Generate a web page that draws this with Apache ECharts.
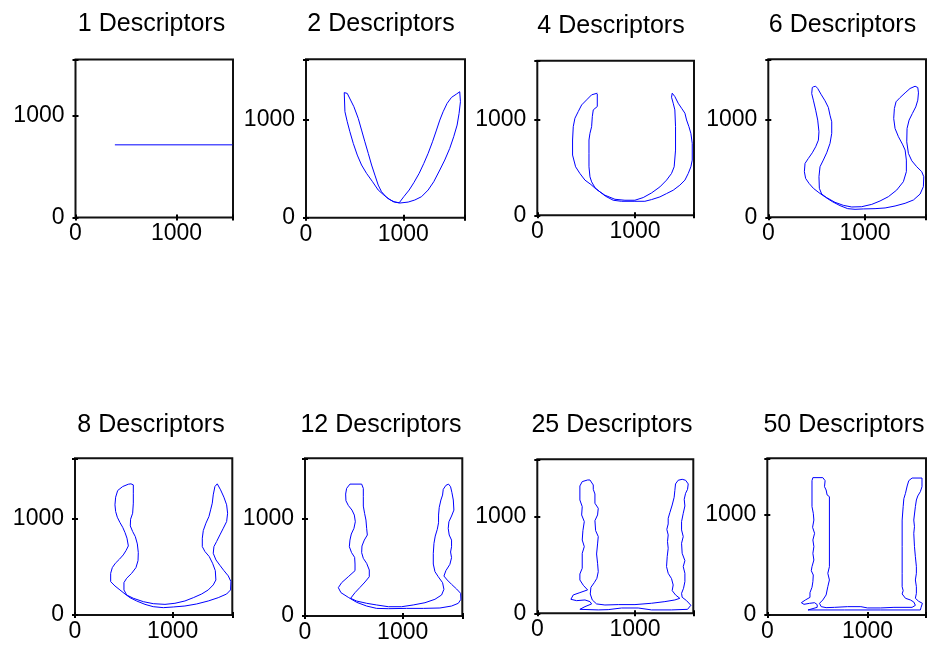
<!DOCTYPE html>
<html>
<head>
<meta charset="utf-8">
<script src="https://cdn.jsdelivr.net/npm/echarts@6/dist/echarts.min.js"></script>
<style>
  html, body { margin: 0; padding: 0; background: #ffffff; }
  #chart { width: 929px; height: 646px; }
</style>
</head>
<body>
<div id="chart"></div>
<script>
// Number of Fourier descriptors kept for each reconstruction
const descriptorCounts = [1, 2, 4, 6, 8, 12, 25, 50];
const tickValues = [0, 1000];

// Reconstructed boundary contours, [x, y] pairs in image units
const contour1 = [[390, 716], [1555, 716]];

const contour2 = [
  [393, 1280], [400, 1085], [424, 982], [451, 880], [486, 760], [527, 641], [571, 539], [622, 454],
  [684, 368], [742, 283], [800, 232], [855, 188], [913, 160], [964, 150],
  [1050, 160], [1118, 181], [1187, 215], [1255, 283], [1313, 368], [1375, 488], [1426, 590], [1477, 709],
  [1518, 829], [1553, 948], [1573, 1067], [1587, 1187], [1580, 1289],
  [1546, 1265], [1495, 1231], [1450, 1170], [1409, 1084], [1375, 999], [1341, 897], [1300, 777], [1255, 658],
  [1211, 556], [1163, 454], [1108, 358], [1060, 283], [1005, 215], [958, 153],
  [896, 164], [828, 208], [776, 266], [742, 334], [708, 436], [674, 539], [640, 658], [605, 777],
  [571, 897], [537, 1016], [492, 1136], [458, 1204], [424, 1272]
];

const contour3 = [
  [614, 1274], [614, 1141], [573, 1106], [563, 1035], [556, 930], [539, 860], [529, 790], [529, 650],
  [529, 509], [539, 404], [556, 351], [590, 291], [641, 246], [699, 200], [777, 158], [863, 147],
  [999, 147], [1101, 147], [1170, 165], [1255, 193], [1323, 228], [1391, 263], [1459, 316], [1511, 369],
  [1545, 439], [1572, 509], [1586, 579], [1586, 755], [1572, 860], [1552, 930], [1528, 1000], [1511, 1071],
  [1477, 1123], [1442, 1176], [1408, 1246], [1381, 1281],
  [1374, 1239], [1391, 1176], [1408, 1106], [1415, 930], [1415, 684], [1401, 509], [1374, 439], [1323, 369],
  [1255, 298], [1170, 235], [1084, 186], [999, 158], [897, 158], [795, 168], [692, 211], [607, 270],
  [549, 323], [488, 369], [436, 439], [392, 509], [361, 632], [361, 790], [368, 930], [385, 1018],
  [419, 1088], [454, 1158], [505, 1211], [556, 1264], [614, 1281]
];

const contour6 = [
  [455, 1334], [449, 1272], [466, 1204], [490, 1101], [511, 999], [524, 879], [518, 793], [490, 725],
  [455, 663], [414, 605], [380, 554], [373, 469], [386, 400], [421, 349], [466, 298], [524, 253],
  [593, 205], [662, 161], [742, 120], [821, 89], [897, 82], [983, 86],
  [1104, 89], [1208, 96], [1311, 116], [1415, 144], [1501, 178], [1570, 239], [1604, 315], [1608, 417],
  [1587, 469], [1535, 520], [1484, 581], [1449, 657], [1432, 776], [1435, 913], [1456, 999], [1490, 1067],
  [1525, 1135], [1546, 1204], [1553, 1279], [1546, 1334], [1518, 1347],
  [1466, 1324], [1415, 1279], [1363, 1231], [1321, 1187], [1304, 1118], [1297, 1016], [1311, 913],
  [1346, 828], [1387, 752], [1415, 691], [1428, 588], [1428, 469], [1397, 366], [1328, 280], [1242, 212],
  [1156, 168], [1070, 133], [966, 109], [863, 106], [776, 123], [690, 154], [604, 202], [552, 239],
  [528, 298], [524, 417], [535, 520], [569, 588], [604, 663], [638, 759], [656, 862], [656, 982],
  [638, 1050], [621, 1129], [587, 1197], [545, 1265], [511, 1324], [490, 1347], [466, 1341]
];

const contour8 = [
  [546, 1352], [488, 1328], [437, 1287], [416, 1218], [409, 1139], [416, 1070], [433, 1011], [460, 956],
  [488, 907], [512, 852], [532, 794], [546, 714], [522, 666], [494, 621], [454, 576], [413, 535],
  [382, 490], [365, 431], [365, 345], [409, 300], [460, 259], [512, 217], [563, 179], [631, 145],
  [716, 110], [801, 86], [904, 76],
  [1006, 83], [1125, 93], [1245, 114], [1364, 145], [1466, 179], [1552, 217], [1592, 259], [1596, 345],
  [1569, 404], [1524, 459], [1483, 514], [1443, 569], [1415, 638], [1422, 707], [1449, 759], [1483, 828],
  [1518, 897], [1552, 966], [1562, 1052], [1552, 1139], [1524, 1218], [1490, 1294], [1456, 1356],
  [1432, 1328], [1415, 1242], [1405, 1156], [1388, 1087], [1371, 1018], [1340, 949], [1313, 873],
  [1303, 794], [1303, 707], [1330, 656], [1374, 604], [1408, 535], [1436, 459], [1442, 362], [1415, 311],
  [1364, 259], [1296, 217], [1211, 179], [1125, 145], [1023, 121], [921, 110], [801, 117], [699, 138],
  [597, 173], [529, 207],
  [501, 259], [501, 335], [529, 380], [580, 431], [624, 490], [645, 562], [648, 645], [638, 735],
  [617, 811], [590, 863], [566, 921], [569, 990], [590, 1052], [597, 1156], [597, 1259], [597, 1345],
  [573, 1356]
];

const contour12 = [
  [460, 1350], [426, 1306], [416, 1248], [419, 1180], [443, 1132], [481, 1084], [505, 1033], [515, 965],
  [501, 897], [474, 839], [460, 777], [454, 709], [477, 648], [508, 600], [512, 532], [512, 464],
  [443, 402], [375, 341], [341, 290], [368, 239], [443, 191], [529, 140], [631, 102], [733, 78], [853, 75],
  [1040, 78], [1211, 78], [1381, 82], [1500, 102], [1569, 130], [1596, 171], [1593, 232], [1552, 276],
  [1500, 324], [1456, 368], [1422, 409], [1442, 464], [1483, 529], [1500, 597], [1490, 655], [1500, 709],
  [1500, 777], [1476, 829], [1466, 897], [1473, 965], [1500, 1023], [1524, 1084], [1518, 1187],
  [1504, 1262], [1490, 1323], [1469, 1350],
  [1442, 1337], [1415, 1296], [1408, 1238], [1391, 1187], [1374, 1112], [1367, 1033], [1367, 955],
  [1354, 887], [1333, 818], [1320, 743], [1313, 641], [1313, 532], [1330, 454], [1364, 402], [1408, 341],
  [1422, 273], [1398, 215], [1330, 171], [1228, 136], [1108, 113], [989, 95], [853, 95], [733, 113],
  [631, 130], [529, 153], [467, 181],
  [512, 239], [563, 293], [614, 348], [658, 402], [658, 471], [631, 539], [597, 590], [580, 648],
  [583, 716], [607, 777], [638, 829], [631, 897], [624, 982], [610, 1050], [597, 1125], [597, 1221],
  [597, 1306], [580, 1350]
];

const contour25 = [
  [515, 1380], [460, 1363], [436, 1318], [436, 1173], [460, 1104], [454, 1018], [481, 949], [467, 856],
  [460, 759], [481, 690], [460, 621], [460, 466], [436, 407], [436, 345], [471, 290], [515, 242],
  [436, 214], [368, 190], [344, 145], [402, 131], [488, 138], [539, 121], [556, 97], [488, 69], [436, 41],
  [624, 35], [726, 38], [863, 55], [1033, 55], [1170, 35], [1374, 35], [1538, 41], [1572, 83],
  [1528, 131], [1483, 166], [1477, 207], [1497, 259], [1511, 328], [1511, 414], [1494, 483], [1511, 545],
  [1483, 621], [1477, 725], [1494, 794], [1477, 863], [1477, 949], [1494, 1035], [1511, 1111],
  [1504, 1180], [1518, 1242], [1538, 1283], [1545, 1339], [1518, 1377], [1483, 1387],
  [1442, 1377], [1415, 1339], [1408, 1270], [1401, 1201], [1381, 1121], [1357, 1042], [1340, 983],
  [1340, 925], [1326, 869], [1340, 811], [1333, 742], [1340, 673], [1330, 587], [1323, 483], [1340, 414],
  [1374, 359], [1391, 293], [1381, 235], [1415, 190], [1459, 155], [1408, 138], [1306, 121], [1170, 104],
  [1000, 90], [829, 90], [692, 86], [607, 97],
  [563, 138], [542, 200], [549, 269], [583, 317], [610, 362], [624, 431], [617, 518], [607, 614],
  [617, 718], [624, 794], [597, 856], [590, 959], [617, 1018], [624, 1087], [590, 1139], [590, 1235],
  [573, 1283], [573, 1328], [539, 1380]
];

const contour50 = [
  [455, 1364], [446, 1334], [446, 1076], [459, 1010], [465, 943], [452, 871], [472, 811], [455, 745],
  [465, 679], [455, 612], [465, 546], [446, 480], [439, 440], [459, 397], [455, 331], [446, 275],
  [426, 222], [426, 175], [380, 149], [340, 122], [366, 106], [422, 116], [472, 122], [498, 103],
  [498, 76], [406, 50],
  [769, 50], [1132, 50], [1528, 50], [1535, 76], [1548, 116], [1511, 136], [1478, 166], [1488, 215],
  [1488, 281], [1478, 348], [1488, 414], [1488, 480], [1478, 579], [1469, 679], [1462, 811], [1469, 877],
  [1462, 943], [1478, 1076], [1488, 1142], [1502, 1182], [1528, 1225], [1544, 1274], [1544, 1360],
  [1445, 1360],
  [1412, 1334], [1396, 1281], [1379, 1208], [1363, 1155], [1356, 1076], [1346, 943], [1346, 679],
  [1346, 414], [1346, 281], [1356, 242], [1346, 209], [1379, 166], [1429, 149], [1462, 129], [1478, 96],
  [1445, 76],
  [1264, 76], [1132, 70], [1000, 70], [934, 83], [802, 83], [670, 76], [587, 73], [538, 83], [521, 116],
  [554, 149], [587, 199], [597, 248], [604, 281], [620, 348], [604, 414], [620, 480], [620, 1175],
  [597, 1192], [587, 1241], [571, 1274], [577, 1334], [554, 1364]
];

const contours = [contour1, contour2, contour3, contour6, contour8, contour12, contour25, contour50];

// Plot frames (pixels) and axis extents for the 2 x 4 subplot layout
const frames = [
  { left: 75.5, top: 59.5, width: 157.5, height: 158, xMax: 1560, yMax: 1557, titleX: 151.5, titleY: 24.5 },
  { left: 306, top: 59.3, width: 159, height: 158.4, xMax: 1634, yMax: 1621, titleX: 381, titleY: 24.5 },
  { left: 537.3, top: 60.7, width: 156.7, height: 154.6, xMax: 1604, yMax: 1622, titleX: 611, titleY: 26.5 },
  { left: 768.3, top: 59.3, width: 157.7, height: 158, xMax: 1631, yMax: 1624, titleX: 842.5, titleY: 25 },
  { left: 75, top: 458.3, width: 157.3, height: 156.7, xMax: 1610, yMax: 1620, titleX: 151, titleY: 425 },
  { left: 305, top: 458.3, width: 157.3, height: 157.7, xMax: 1610, yMax: 1614, titleX: 381, titleY: 425 },
  { left: 537.3, top: 459.3, width: 156, height: 154, xMax: 1597, yMax: 1594, titleX: 612, titleY: 425 },
  { left: 767.3, top: 458.3, width: 160, height: 156.7, xMax: 1584, yMax: 1556, titleX: 844, titleY: 425 }
];

const FONT = '"Liberation Sans", Arial, Helvetica, sans-serif';
const tickLabel = v => (tickValues.indexOf(v) >= 0 ? String(v) : '');
const tickStyle = { inside: true, length: 3, lineStyle: { color: '#000', width: 2 } };

const grid = [], xAxis = [], yAxis = [], series = [], graphic = [];

frames.forEach((f, i) => {
  grid.push({
    left: f.left, top: f.top, width: f.width, height: f.height,
    show: true, borderColor: '#111', borderWidth: 2, backgroundColor: 'transparent'
  });
  const common = { gridIndex: i, type: 'value', min: 0, interval: 1000, splitLine: { show: false }, axisLine: { show: false } };
  xAxis.push(Object.assign({}, common, {
    max: f.xMax, position: 'bottom', axisTick: tickStyle,
    axisLabel: { formatter: tickLabel, fontSize: 23, color: '#000', margin: 5, fontFamily: FONT }
  }));
  xAxis.push(Object.assign({}, common, {
    max: f.xMax, position: 'top', axisTick: tickStyle, axisLabel: { show: false }
  }));
  yAxis.push(Object.assign({}, common, {
    max: f.yMax, position: 'left', axisTick: tickStyle,
    axisLabel: { formatter: tickLabel, fontSize: 23, color: '#000', margin: 11, fontFamily: FONT, padding: [0, 0, 4, 0] }
  }));
  yAxis.push(Object.assign({}, common, {
    max: f.yMax, position: 'right', axisTick: tickStyle, axisLabel: { show: false }
  }));

  const pts = contours[i];
  const path = pts.length > 2 ? pts.concat([pts[0]]) : pts;
  series.push({
    type: 'line', xAxisIndex: 2 * i, yAxisIndex: 2 * i, data: path,
    showSymbol: false, symbol: 'none', silent: true, clip: true,
    lineStyle: { color: '#0000ff', width: 1 }
  });

  graphic.push({
    type: 'text', x: f.titleX, y: f.titleY, silent: true,
    style: {
      text: descriptorCounts[i] + ' Descriptors', fill: '#000',
      font: '25px ' + FONT, textAlign: 'center', textVerticalAlign: 'middle'
    }
  });
});

const chart = echarts.init(document.getElementById('chart'), null, { renderer: 'canvas' });
chart.setOption({
  animation: false,
  backgroundColor: '#ffffff',
  grid, xAxis, yAxis, series, graphic
});
</script>
</body>
</html>
